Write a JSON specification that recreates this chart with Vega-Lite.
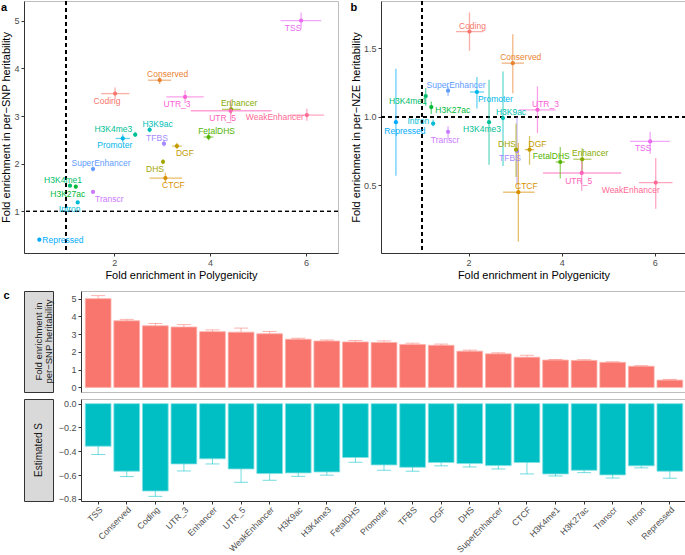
{
"$schema": "https://vega.github.io/schema/vega-lite/v6.json",
"padding": 0,
"background": "white",
"config": {
  "font": "Liberation Sans",
  "view": {"stroke": "#BDBDBD"},
  "axis": {"grid": false, "domainColor": "#333333", "tickColor": "#333333", "tickSize": 3, "labelColor": "#4D4D4D", "labelFontSize": 9, "titleFontSize": 11, "titleFontWeight": "normal", "titleColor": "#000000", "labelPadding": 2, "titlePadding": 2, "labelOverlap": false},
  "title": {"fontSize": 11, "fontWeight": "bold", "color": "#000000"}
},
"datasets": {"d": [
  {"name": "TSS", "pg": 5.90, "pgl": 5.47, "pgh": 6.32, "h": 5.00, "hl": 4.83, "hh": 5.17, "z": 0.82, "zl": 0.73, "zh": 0.89, "s": -0.357, "sl": -0.427, "sh": -0.287},
  {"name": "Conserved", "pg": 2.95, "pgl": 2.71, "pgh": 3.19, "h": 3.75, "hl": 3.67, "hh": 3.83, "z": 1.39, "zl": 1.17, "zh": 1.60, "s": -0.567, "sl": -0.612, "sh": -0.522},
  {"name": "Coding", "pg": 2.02, "pgl": 1.73, "pgh": 2.32, "h": 3.47, "hl": 3.35, "hh": 3.60, "z": 1.62, "zl": 1.48, "zh": 1.76, "s": -0.733, "sl": -0.778, "sh": -0.688},
  {"name": "UTR_3", "pg": 3.48, "pgl": 3.09, "pgh": 3.87, "h": 3.40, "hl": 3.27, "hh": 3.54, "z": 1.05, "zl": 0.88, "zh": 1.22, "s": -0.506, "sl": -0.565, "sh": -0.447},
  {"name": "Enhancer", "pg": 4.44, "pgl": 4.25, "pgh": 4.64, "h": 3.14, "hl": 3.05, "hh": 3.24, "z": 0.69, "zl": 0.60, "zh": 0.77, "s": -0.463, "sl": -0.506, "sh": -0.420},
  {"name": "UTR_5", "pg": 4.43, "pgl": 3.60, "pgh": 5.28, "h": 3.11, "hl": 2.89, "hh": 3.34, "z": 0.59, "zl": 0.46, "zh": 0.69, "s": -0.548, "sl": -0.660, "sh": -0.436},
  {"name": "WeakEnhancer", "pg": 6.02, "pgl": 5.66, "pgh": 6.38, "h": 3.02, "hl": 2.90, "hh": 3.15, "z": 0.52, "zl": 0.33, "zh": 0.70, "s": -0.587, "sl": -0.643, "sh": -0.531},
  {"name": "H3K9ac", "pg": 2.74, "pgl": 2.70, "pgh": 2.78, "h": 2.71, "hl": 2.66, "hh": 2.77, "z": 0.99, "zl": 0.64, "zh": 1.33, "s": -0.581, "sl": -0.610, "sh": -0.552},
  {"name": "H3K4me3", "pg": 2.44, "pgl": 2.40, "pgh": 2.48, "h": 2.61, "hl": 2.56, "hh": 2.67, "z": 0.96, "zl": 0.65, "zh": 1.27, "s": -0.573, "sl": -0.600, "sh": -0.546},
  {"name": "FetalDHS", "pg": 3.97, "pgl": 3.87, "pgh": 4.07, "h": 2.56, "hl": 2.49, "hh": 2.64, "z": 0.67, "zl": 0.55, "zh": 0.78, "s": -0.452, "sl": -0.492, "sh": -0.412},
  {"name": "Promoter", "pg": 2.18, "pgl": 2.03, "pgh": 2.33, "h": 2.53, "hl": 2.45, "hh": 2.62, "z": 1.18, "zl": 1.06, "zh": 1.29, "s": -0.514, "sl": -0.559, "sh": -0.469},
  {"name": "TFBS", "pg": 3.04, "pgl": 3.00, "pgh": 3.08, "h": 2.42, "hl": 2.36, "hh": 2.49, "z": 0.75, "zl": 0.50, "zh": 1.00, "s": -0.534, "sl": -0.567, "sh": -0.501},
  {"name": "DGF", "pg": 3.31, "pgl": 3.21, "pgh": 3.41, "h": 2.37, "hl": 2.31, "hh": 2.44, "z": 0.76, "zl": 0.65, "zh": 0.86, "s": -0.494, "sl": -0.522, "sh": -0.466},
  {"name": "DHS", "pg": 3.02, "pgl": 2.99, "pgh": 3.05, "h": 2.04, "hl": 1.99, "hh": 2.10, "z": 0.76, "zl": 0.56, "zh": 0.95, "s": -0.503, "sl": -0.531, "sh": -0.475},
  {"name": "SuperEnhancer", "pg": 1.56, "pgl": 1.53, "pgh": 1.59, "h": 1.89, "hl": 1.84, "hh": 1.95, "z": 1.19, "zl": 1.15, "zh": 1.22, "s": -0.520, "sl": -0.548, "sh": -0.492},
  {"name": "CTCF", "pg": 3.07, "pgl": 2.74, "pgh": 3.42, "h": 1.70, "hl": 1.60, "hh": 1.81, "z": 0.45, "zl": 0.09, "zh": 0.81, "s": -0.494, "sl": -0.590, "sh": -0.398},
  {"name": "H3K4me1", "pg": 1.08, "pgl": 1.06, "pgh": 1.10, "h": 1.54, "hl": 1.51, "hh": 1.57, "z": 1.15, "zl": 1.08, "zh": 1.21, "s": -0.590, "sl": -0.607, "sh": -0.573},
  {"name": "H3K27ac", "pg": 1.20, "pgl": 1.18, "pgh": 1.22, "h": 1.52, "hl": 1.48, "hh": 1.56, "z": 1.07, "zl": 1.02, "zh": 1.11, "s": -0.559, "sl": -0.579, "sh": -0.539},
  {"name": "Transcr", "pg": 1.56, "pgl": 1.54, "pgh": 1.58, "h": 1.41, "hl": 1.38, "hh": 1.44, "z": 0.89, "zl": 0.84, "zh": 0.93, "s": -0.598, "sl": -0.624, "sh": -0.572},
  {"name": "Intron", "pg": 1.24, "pgl": 1.22, "pgh": 1.26, "h": 1.19, "hl": 1.16, "hh": 1.22, "z": 0.95, "zl": 0.93, "zh": 0.98, "s": -0.522, "sl": -0.539, "sh": -0.505},
  {"name": "Repressed", "pg": 0.44, "pgl": 0.42, "pgh": 0.46, "h": 0.41, "hl": 0.37, "hh": 0.45, "z": 0.96, "zl": 0.57, "zh": 1.35, "s": -0.567, "sl": -0.626, "sh": -0.508}
]},
"spacing": 8,
"vconcat": [
 {"hconcat": [
  {"width": 314, "height": 252,
   "title": {"text": "a", "anchor": "start", "frame": "bounds", "offset": -12},
   "data": {"name": "d"},
   "layer": [
    {"mark": {"type": "rule", "strokeDash": [4, 3], "strokeWidth": 0.8, "color": "#000000"}, "encoding": {"x": {"datum": 1, "type": "quantitative", "scale": {"domain": [0.12, 6.67], "nice": false, "zero": false}}}},
    {"mark": {"type": "rule", "strokeDash": [4, 3], "strokeWidth": 0.8, "color": "#000000"}, "encoding": {"y": {"datum": 1, "type": "quantitative", "scale": {"domain": [0.13, 5.41], "nice": false, "zero": false}}}},
    {"mark": {"type": "rule", "opacity": 0.6, "strokeWidth": 1.3}, "encoding": {
      "x": {"field": "pgl", "type": "quantitative", "scale": {"domain": [0.12, 6.67], "nice": false, "zero": false}}, "x2": {"field": "pgh"},
      "y": {"field": "h", "type": "quantitative", "scale": {"domain": [0.13, 5.41], "nice": false, "zero": false}},
      "color": {"field": "name", "type": "nominal", "legend": null, "scale": {"domain": ["Coding","Conserved","CTCF","DGF","DHS","Enhancer","FetalDHS","H3K27ac","H3K4me1","H3K4me3","H3K9ac","Intron","Promoter","Repressed","SuperEnhancer","TFBS","Transcr","TSS","UTR_3","UTR_5","WeakEnhancer"], "range": ["#F8766D","#EA8331","#D89000","#C49A00","#A3A500","#86AC00","#53B400","#00BA38","#00BE6C","#00C094","#00C0B5","#00BCD6","#00B6EB","#00ABFD","#619CFF","#A58AFF","#CB7AFF","#E96AF1","#FB61D7","#FF62BA","#FF6A95"]}}}},
    {"mark": {"type": "rule", "opacity": 0.6, "strokeWidth": 1.3}, "encoding": {
      "x": {"field": "pg", "type": "quantitative", "scale": {"domain": [0.12, 6.67], "nice": false, "zero": false}},
      "y": {"field": "hl", "type": "quantitative", "scale": {"domain": [0.13, 5.41], "nice": false, "zero": false}}, "y2": {"field": "hh"},
      "color": {"field": "name", "type": "nominal", "legend": null}}},
    {"mark": {"type": "point", "filled": true, "size": 18, "opacity": 1}, "encoding": {
      "x": {"field": "pg", "type": "quantitative", "scale": {"domain": [0.12, 6.67], "nice": false, "zero": false}, "axis": {"title": "Fold enrichment in Polygenicity", "values": [2, 4, 6]}},
      "y": {"field": "h", "type": "quantitative", "scale": {"domain": [0.13, 5.41], "nice": false, "zero": false}, "axis": {"title": "Fold enrichment in per−SNP heritability", "values": [1, 2, 3, 4, 5]}},
      "color": {"field": "name", "type": "nominal", "legend": null}}},
    {"transform": [{"filter": {"field": "name", "oneOf": ["TSS", "Coding", "UTR_3", "UTR_5", "Promoter", "DHS", "Intron", "H3K27ac"]}}],
     "mark": {"type": "text", "fontSize": 8.5, "dx": -8, "dy": 7, "align": "center", "baseline": "middle"},
     "encoding": {"x": {"field": "pg", "type": "quantitative"}, "y": {"field": "h", "type": "quantitative"}, "text": {"field": "name"}, "color": {"field": "name", "type": "nominal", "legend": null}}},
    {"transform": [{"filter": {"field": "name", "oneOf": ["Conserved", "Enhancer", "H3K9ac", "FetalDHS", "SuperEnhancer"]}}],
     "mark": {"type": "text", "fontSize": 8.5, "dx": 8, "dy": -6, "align": "center", "baseline": "middle"},
     "encoding": {"x": {"field": "pg", "type": "quantitative"}, "y": {"field": "h", "type": "quantitative"}, "text": {"field": "name"}, "color": {"field": "name", "type": "nominal", "legend": null}}},
    {"transform": [{"filter": {"field": "name", "oneOf": ["DGF", "CTCF"]}}],
     "mark": {"type": "text", "fontSize": 8.5, "dx": 8, "dy": 7, "align": "center", "baseline": "middle"},
     "encoding": {"x": {"field": "pg", "type": "quantitative"}, "y": {"field": "h", "type": "quantitative"}, "text": {"field": "name"}, "color": {"field": "name", "type": "nominal", "legend": null}}},
    {"transform": [{"filter": {"field": "name", "oneOf": ["TFBS", "H3K4me1"]}}],
     "mark": {"type": "text", "fontSize": 8.5, "dx": -7, "dy": -6, "align": "center", "baseline": "middle"},
     "encoding": {"x": {"field": "pg", "type": "quantitative"}, "y": {"field": "h", "type": "quantitative"}, "text": {"field": "name"}, "color": {"field": "name", "type": "nominal", "legend": null}}},
    {"transform": [{"filter": {"field": "name", "oneOf": ["WeakEnhancer"]}}],
     "mark": {"type": "text", "fontSize": 8.5, "dx": -3, "dy": 2, "align": "right", "baseline": "middle"},
     "encoding": {"x": {"field": "pg", "type": "quantitative"}, "y": {"field": "h", "type": "quantitative"}, "text": {"field": "name"}, "color": {"field": "name", "type": "nominal", "legend": null}}},
    {"transform": [{"filter": {"field": "name", "oneOf": ["H3K4me3"]}}],
     "mark": {"type": "text", "fontSize": 8.5, "dx": -3, "dy": -6, "align": "right", "baseline": "middle"},
     "encoding": {"x": {"field": "pg", "type": "quantitative"}, "y": {"field": "h", "type": "quantitative"}, "text": {"field": "name"}, "color": {"field": "name", "type": "nominal", "legend": null}}},
    {"transform": [{"filter": {"field": "name", "oneOf": ["Transcr"]}}],
     "mark": {"type": "text", "fontSize": 8.5, "dx": 2, "dy": 7, "align": "left", "baseline": "middle"},
     "encoding": {"x": {"field": "pg", "type": "quantitative"}, "y": {"field": "h", "type": "quantitative"}, "text": {"field": "name"}, "color": {"field": "name", "type": "nominal", "legend": null}}},
    {"transform": [{"filter": {"field": "name", "oneOf": ["Repressed"]}}],
     "mark": {"type": "text", "fontSize": 8.5, "dx": 3, "dy": 0, "align": "left", "baseline": "middle"},
     "encoding": {"x": {"field": "pg", "type": "quantitative"}, "y": {"field": "h", "type": "quantitative"}, "text": {"field": "name"}, "color": {"field": "name", "type": "nominal", "legend": null}}}
   ]},
  {"width": 305, "height": 252,
   "title": {"text": "b", "anchor": "start", "frame": "bounds", "offset": -12},
   "data": {"name": "d"},
   "layer": [
    {"mark": {"type": "rule", "strokeDash": [4, 3], "strokeWidth": 0.8, "color": "#000000"}, "encoding": {"x": {"datum": 1, "type": "quantitative", "scale": {"domain": [0.12, 6.67], "nice": false, "zero": false}}}},
    {"mark": {"type": "rule", "strokeDash": [4, 3], "strokeWidth": 0.8, "color": "#000000"}, "encoding": {"y": {"datum": 1, "type": "quantitative", "scale": {"domain": [0.007, 1.843], "nice": false, "zero": false}}}},
    {"mark": {"type": "rule", "opacity": 0.6, "strokeWidth": 1.3}, "encoding": {
      "x": {"field": "pgl", "type": "quantitative", "scale": {"domain": [0.12, 6.67], "nice": false, "zero": false}}, "x2": {"field": "pgh"},
      "y": {"field": "z", "type": "quantitative", "scale": {"domain": [0.007, 1.843], "nice": false, "zero": false}},
      "color": {"field": "name", "type": "nominal", "legend": null, "scale": {"domain": ["Coding","Conserved","CTCF","DGF","DHS","Enhancer","FetalDHS","H3K27ac","H3K4me1","H3K4me3","H3K9ac","Intron","Promoter","Repressed","SuperEnhancer","TFBS","Transcr","TSS","UTR_3","UTR_5","WeakEnhancer"], "range": ["#F8766D","#EA8331","#D89000","#C49A00","#A3A500","#86AC00","#53B400","#00BA38","#00BE6C","#00C094","#00C0B5","#00BCD6","#00B6EB","#00ABFD","#619CFF","#A58AFF","#CB7AFF","#E96AF1","#FB61D7","#FF62BA","#FF6A95"]}}}},
    {"mark": {"type": "rule", "opacity": 0.6, "strokeWidth": 1.3}, "encoding": {
      "x": {"field": "pg", "type": "quantitative", "scale": {"domain": [0.12, 6.67], "nice": false, "zero": false}},
      "y": {"field": "zl", "type": "quantitative", "scale": {"domain": [0.007, 1.843], "nice": false, "zero": false}}, "y2": {"field": "zh"},
      "color": {"field": "name", "type": "nominal", "legend": null}}},
    {"mark": {"type": "point", "filled": true, "size": 18, "opacity": 1}, "encoding": {
      "x": {"field": "pg", "type": "quantitative", "scale": {"domain": [0.12, 6.67], "nice": false, "zero": false}, "axis": {"title": "Fold enrichment in Polygenicity", "values": [2, 4, 6]}},
      "y": {"field": "z", "type": "quantitative", "scale": {"domain": [0.007, 1.843], "nice": false, "zero": false}, "axis": {"title": "Fold enrichment in per−NZE heritability", "values": [0.5, 1.0, 1.5], "format": ".1f"}},
      "color": {"field": "name", "type": "nominal", "legend": null}}},
    {"transform": [{"filter": {"field": "name", "oneOf": ["Conserved", "SuperEnhancer", "UTR_3", "H3K9ac", "DGF", "Enhancer", "CTCF"]}}],
     "mark": {"type": "text", "fontSize": 8.5, "dx": 8, "dy": -6, "align": "center", "baseline": "middle"},
     "encoding": {"x": {"field": "pg", "type": "quantitative"}, "y": {"field": "z", "type": "quantitative"}, "text": {"field": "name"}, "color": {"field": "name", "type": "nominal", "legend": null}}},
    {"transform": [{"filter": {"field": "name", "oneOf": ["Coding"]}}],
     "mark": {"type": "text", "fontSize": 8.5, "dx": 3, "dy": -6, "align": "center", "baseline": "middle"},
     "encoding": {"x": {"field": "pg", "type": "quantitative"}, "y": {"field": "z", "type": "quantitative"}, "text": {"field": "name"}, "color": {"field": "name", "type": "nominal", "legend": null}}},
    {"transform": [{"filter": {"field": "name", "oneOf": ["H3K4me3", "TFBS", "TSS"]}}],
     "mark": {"type": "text", "fontSize": 8.5, "dx": -7, "dy": 7, "align": "center", "baseline": "middle"},
     "encoding": {"x": {"field": "pg", "type": "quantitative"}, "y": {"field": "z", "type": "quantitative"}, "text": {"field": "name"}, "color": {"field": "name", "type": "nominal", "legend": null}}},
    {"transform": [{"filter": {"field": "name", "oneOf": ["UTR_5", "Transcr"]}}],
     "mark": {"type": "text", "fontSize": 8.5, "dx": -3, "dy": 8, "align": "center", "baseline": "middle"},
     "encoding": {"x": {"field": "pg", "type": "quantitative"}, "y": {"field": "z", "type": "quantitative"}, "text": {"field": "name"}, "color": {"field": "name", "type": "nominal", "legend": null}}},
    {"transform": [{"filter": {"field": "name", "oneOf": ["DHS", "FetalDHS"]}}],
     "mark": {"type": "text", "fontSize": 8.5, "dx": -9, "dy": -6, "align": "center", "baseline": "middle"},
     "encoding": {"x": {"field": "pg", "type": "quantitative"}, "y": {"field": "z", "type": "quantitative"}, "text": {"field": "name"}, "color": {"field": "name", "type": "nominal", "legend": null}}},
    {"transform": [{"filter": {"field": "name", "oneOf": ["Repressed"]}}],
     "mark": {"type": "text", "fontSize": 8.5, "dx": 9, "dy": 9, "align": "center", "baseline": "middle"},
     "encoding": {"x": {"field": "pg", "type": "quantitative"}, "y": {"field": "z", "type": "quantitative"}, "text": {"field": "name"}, "color": {"field": "name", "type": "nominal", "legend": null}}},
    {"transform": [{"filter": {"field": "name", "oneOf": ["Promoter"]}}],
     "mark": {"type": "text", "fontSize": 8.5, "dx": 1, "dy": 7, "align": "left", "baseline": "middle"},
     "encoding": {"x": {"field": "pg", "type": "quantitative"}, "y": {"field": "z", "type": "quantitative"}, "text": {"field": "name"}, "color": {"field": "name", "type": "nominal", "legend": null}}},
    {"transform": [{"filter": {"field": "name", "oneOf": ["H3K27ac"]}}],
     "mark": {"type": "text", "fontSize": 8.5, "dx": 4, "dy": 3, "align": "left", "baseline": "middle"},
     "encoding": {"x": {"field": "pg", "type": "quantitative"}, "y": {"field": "z", "type": "quantitative"}, "text": {"field": "name"}, "color": {"field": "name", "type": "nominal", "legend": null}}},
    {"transform": [{"filter": {"field": "name", "oneOf": ["H3K4me1"]}}],
     "mark": {"type": "text", "fontSize": 8.5, "dx": 1, "dy": 5, "align": "right", "baseline": "middle"},
     "encoding": {"x": {"field": "pg", "type": "quantitative"}, "y": {"field": "z", "type": "quantitative"}, "text": {"field": "name"}, "color": {"field": "name", "type": "nominal", "legend": null}}},
    {"transform": [{"filter": {"field": "name", "oneOf": ["Intron"]}}],
     "mark": {"type": "text", "fontSize": 8.5, "dx": -4, "dy": -3, "align": "right", "baseline": "middle"},
     "encoding": {"x": {"field": "pg", "type": "quantitative"}, "y": {"field": "z", "type": "quantitative"}, "text": {"field": "name"}, "color": {"field": "name", "type": "nominal", "legend": null}}},
    {"transform": [{"filter": {"field": "name", "oneOf": ["WeakEnhancer"]}}],
     "mark": {"type": "text", "fontSize": 8.5, "dx": 4, "dy": 7, "align": "right", "baseline": "middle"},
     "encoding": {"x": {"field": "pg", "type": "quantitative"}, "y": {"field": "z", "type": "quantitative"}, "text": {"field": "name"}, "color": {"field": "name", "type": "nominal", "legend": null}}}
   ]}
 ], "spacing": 10},
 {"title": {"text": "c", "anchor": "start", "frame": "bounds", "offset": -10, "dx": -20},
  "vconcat": [
   {"hconcat": [
     {"width": 29, "height": 101, "view": {"fill": "#D9D9D9", "stroke": "#333333"},
      "data": {"values": [{"t": "Fold enrichment in\nper−SNP heritability"}]},
      "mark": {"type": "text", "angle": 270, "fontSize": 9.5, "lineBreak": "\n", "lineHeight": 10.5, "color": "#1A1A1A"},
      "encoding": {"text": {"field": "t"}}},
     {"width": 606, "height": 101, "data": {"name": "d"},
      "layer": [
       {"mark": {"type": "bar", "color": "#F8766D", "stroke": "#FCB0AA", "strokeWidth": 0.8}, "encoding": {
         "x": {"field": "name", "type": "nominal", "sort": ["TSS","Conserved","Coding","UTR_3","Enhancer","UTR_5","WeakEnhancer","H3K9ac","H3K4me3","FetalDHS","Promoter","TFBS","DGF","DHS","SuperEnhancer","CTCF","H3K4me1","H3K27ac","Transcr","Intron","Repressed"], "scale": {"paddingInner": 0.1, "paddingOuter": 0.15}, "axis": null},
         "y": {"field": "h", "type": "quantitative", "scale": {"domain": [-0.26, 5.43], "nice": false, "zero": false}, "axis": {"title": null, "values": [0, 1, 2, 3, 4, 5], "tickCount": 6, "labelOverlap": false, "minExtent": 24, "maxExtent": 24}}}},
       {"mark": {"type": "rule", "color": "#F8766D", "opacity": 0.55}, "encoding": {
         "x": {"field": "name", "type": "nominal", "sort": ["TSS","Conserved","Coding","UTR_3","Enhancer","UTR_5","WeakEnhancer","H3K9ac","H3K4me3","FetalDHS","Promoter","TFBS","DGF","DHS","SuperEnhancer","CTCF","H3K4me1","H3K27ac","Transcr","Intron","Repressed"]},
         "y": {"field": "h", "type": "quantitative", "scale": {"domain": [-0.26, 5.43], "nice": false, "zero": false}, "axis": {"title": null, "values": [0, 1, 2, 3, 4, 5], "tickCount": 6, "labelOverlap": false, "minExtent": 24, "maxExtent": 24}}, "y2": {"field": "hh"}}},
       {"mark": {"type": "tick", "color": "#F8766D", "opacity": 0.55, "size": 14, "thickness": 1}, "encoding": {
         "x": {"field": "name", "type": "nominal", "sort": ["TSS","Conserved","Coding","UTR_3","Enhancer","UTR_5","WeakEnhancer","H3K9ac","H3K4me3","FetalDHS","Promoter","TFBS","DGF","DHS","SuperEnhancer","CTCF","H3K4me1","H3K27ac","Transcr","Intron","Repressed"]},
         "y": {"field": "hh", "type": "quantitative", "scale": {"domain": [-0.26, 5.43], "nice": false, "zero": false}, "axis": {"title": null, "values": [0, 1, 2, 3, 4, 5], "tickCount": 6, "labelOverlap": false, "minExtent": 24, "maxExtent": 24}}}}
      ]}
   ], "spacing": 2},
   {"hconcat": [
     {"width": 29, "height": 102, "view": {"fill": "#D9D9D9", "stroke": "#333333"},
      "data": {"values": [{"t": "Estimated S"}]},
      "mark": {"type": "text", "angle": 270, "fontSize": 10, "color": "#1A1A1A"},
      "encoding": {"text": {"field": "t"}}},
     {"width": 606, "height": 102, "data": {"name": "d"},
      "layer": [
       {"mark": {"type": "bar", "color": "#00BFC4", "stroke": "#7FE0E2", "strokeWidth": 0.8}, "encoding": {
         "x": {"field": "name", "type": "nominal", "sort": ["TSS","Conserved","Coding","UTR_3","Enhancer","UTR_5","WeakEnhancer","H3K9ac","H3K4me3","FetalDHS","Promoter","TFBS","DGF","DHS","SuperEnhancer","CTCF","H3K4me1","H3K27ac","Transcr","Intron","Repressed"], "scale": {"paddingInner": 0.1, "paddingOuter": 0.15}, "axis": {"title": null, "labelAngle": -45, "labelFontSize": 8.7, "labelPadding": 1, "labelColor": "#4D4D4D"}},
         "y": {"field": "s", "type": "quantitative", "scale": {"domain": [-0.817, 0.039], "nice": false, "zero": false}, "axis": {"title": null, "values": [0, -0.2, -0.4, -0.6, -0.8], "tickCount": 5, "format": ".1f", "labelOverlap": false, "minExtent": 24, "maxExtent": 24}}}},
       {"mark": {"type": "rule", "color": "#00BFC4", "opacity": 0.55}, "encoding": {
         "x": {"field": "name", "type": "nominal", "sort": ["TSS","Conserved","Coding","UTR_3","Enhancer","UTR_5","WeakEnhancer","H3K9ac","H3K4me3","FetalDHS","Promoter","TFBS","DGF","DHS","SuperEnhancer","CTCF","H3K4me1","H3K27ac","Transcr","Intron","Repressed"]},
         "y": {"field": "s", "type": "quantitative", "scale": {"domain": [-0.817, 0.039], "nice": false, "zero": false}, "axis": {"title": null, "values": [0, -0.2, -0.4, -0.6, -0.8], "tickCount": 5, "format": ".1f", "labelOverlap": false, "minExtent": 24, "maxExtent": 24}}, "y2": {"field": "sl"}}},
       {"mark": {"type": "tick", "color": "#00BFC4", "opacity": 0.55, "size": 14, "thickness": 1}, "encoding": {
         "x": {"field": "name", "type": "nominal", "sort": ["TSS","Conserved","Coding","UTR_3","Enhancer","UTR_5","WeakEnhancer","H3K9ac","H3K4me3","FetalDHS","Promoter","TFBS","DGF","DHS","SuperEnhancer","CTCF","H3K4me1","H3K27ac","Transcr","Intron","Repressed"]},
         "y": {"field": "sl", "type": "quantitative", "scale": {"domain": [-0.817, 0.039], "nice": false, "zero": false}, "axis": {"title": null, "values": [0, -0.2, -0.4, -0.6, -0.8], "tickCount": 5, "format": ".1f", "labelOverlap": false, "minExtent": 24, "maxExtent": 24}}}}
      ]}
   ], "spacing": 2}
  ], "spacing": 5}
]
}
